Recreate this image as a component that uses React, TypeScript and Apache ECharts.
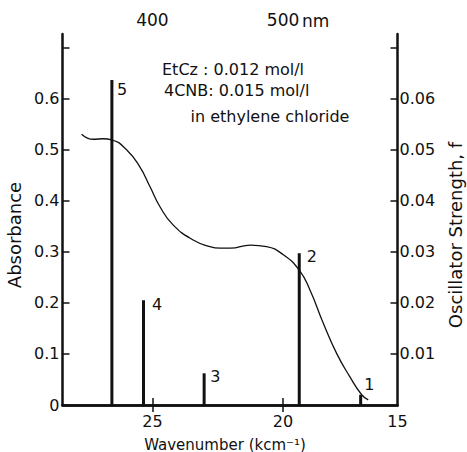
import React, { useEffect, useRef } from "react";
import * as echarts from "echarts";

// Absorption spectrum (wavenumber in kcm^-1, absorbance)
const spectrumWavenumber = [27.71, 27.26, 26.88, 26.56, 25.98, 25.48, 25.09, 24.71, 24.2, 23.44, 22.8, 22.41, 22.02, 21.25, 20.63, 19.99, 19.38, 18.97, 18.46, 17.95, 17.44, 16.99, 16.74];
const spectrumAbsorbance = [0.53, 0.52, 0.521, 0.519, 0.499, 0.466, 0.427, 0.388, 0.352, 0.323, 0.31, 0.307, 0.307, 0.313, 0.31, 0.294, 0.264, 0.225, 0.16, 0.101, 0.055, 0.02, 0.01];

// Calculated transitions (wavenumber, oscillator strength)
const transitionLabels = ["5", "4", "3", "2", "1"];
const transitionWavenumber = [26.55, 25.34, 23.02, 19.38, 17.03];
const oscillatorStrength = [0.0636, 0.0205, 0.0062, 0.0297, 0.002];

// Axis ticks
const xMin = 15.62;
const xMax = 28.44;
const bottomTickValues = [25, 20];
const bottomLabelValues = [xMin, 20, 25];
const topTickValues = [25, 20];
const topTickLabels = ["400", "500"];
const absTickValues = [0, 0.1, 0.2, 0.3, 0.4, 0.5, 0.6, 0.7];
const absLabelValues = [0, 0.1, 0.2, 0.3, 0.4, 0.5, 0.6];
const fTickValues = [0.01, 0.02, 0.03, 0.04, 0.05, 0.06, 0.07];
const fLabelValues = [0.01, 0.02, 0.03, 0.04, 0.05, 0.06];

// label offsets (style)
const labelOffsets = [[6.5, 2], [10, -4], [7.5, -5], [9, -5], [5, -18]];

const FONT = "DejaVu Sans";
const INK = "#111";

export default function App() {
  const ref = useRef<HTMLDivElement>(null);
  useEffect(() => {
    if (!ref.current) return;
    const chart = echarts.init(ref.current, undefined, { renderer: "svg" });
    const axisLine = { show: true, lineStyle: { color: INK, width: 2.5 } };
    const option: any = {
      animation: false,
      backgroundColor: "#fff",
      grid: { left: 62.5, right: 69.5, top: 34, bottom: 47, containLabel: false, outerBoundsMode: "none" },
      xAxis: [
        {
          type: "value",
          position: "bottom",
          inverse: true,
          min: xMin,
          max: xMax,
          axisLine,
          axisTick: { show: true, inside: true, length: 7, customValues: bottomTickValues, lineStyle: { color: INK, width: 1.5 } },
          axisLabel: {
            customValues: bottomLabelValues,
            formatter: (v: number) => (Math.abs(v - xMin) < 0.01 ? "15" : String(Math.round(v))),
            color: INK,
            fontFamily: FONT,
            fontSize: 16,
            margin: 8,
          },
          splitLine: { show: false },
          name: "Wavenumber (kcm⁻¹)",
          nameLocation: "middle",
          nameGap: 32,
          nameTextStyle: { color: INK, fontFamily: FONT, fontSize: 15, padding: [0, 10, 0, 0] },
        },
        {
          type: "value",
          position: "top",
          inverse: true,
          min: xMin,
          max: xMax,
          axisLine,
          axisTick: { show: true, inside: true, length: 7, customValues: topTickValues, lineStyle: { color: INK, width: 1.5 } },
          axisLabel: {
            customValues: topTickValues,
            formatter: (v: number) => topTickLabels[topTickValues.indexOf(Math.round(v))] ?? "",
            color: INK,
            fontFamily: FONT,
            fontSize: 17,
            margin: 6,
          },
          splitLine: { show: false },
        },
      ],
      yAxis: [
        {
          type: "value",
          position: "left",
          min: 0,
          max: 0.726,
          axisLine,
          axisTick: { show: true, inside: true, length: 7, customValues: absTickValues, lineStyle: { color: INK, width: 1.5 } },
          axisLabel: {
            customValues: absLabelValues,
            formatter: (v: number) => (v === 0 ? "0" : v.toFixed(1)),
            color: INK,
            fontFamily: FONT,
            fontSize: 16,
            margin: 3,
          },
          splitLine: { show: false },
          name: "Absorbance",
          nameLocation: "middle",
          nameGap: 35,
          nameTextStyle: { color: INK, fontFamily: FONT, fontSize: 18, padding: [0, 31, 0, 0] },
        },
        {
          type: "value",
          position: "right",
          min: 0,
          max: 0.0726,
          axisLine,
          axisTick: { show: true, inside: true, length: 7, customValues: fTickValues, lineStyle: { color: INK, width: 1.5 } },
          axisLabel: {
            customValues: fLabelValues,
            formatter: (v: number) => v.toFixed(2),
            color: INK,
            fontFamily: FONT,
            fontSize: 16,
            margin: 2,
          },
          splitLine: { show: false },
          name: "Oscillator Strength, f",
          nameLocation: "middle",
          nameGap: 49,
          nameTextStyle: { color: INK, fontFamily: FONT, fontSize: 18, padding: [0, 31, 0, 0] },
        },
      ],
      series: [
        {
          type: "line",
          name: "Absorbance",
          xAxisIndex: 0,
          yAxisIndex: 0,
          smooth: 0.5,
          showSymbol: false,
          lineStyle: { color: INK, width: 1.3 },
          data: spectrumWavenumber.map((x, i) => [x, spectrumAbsorbance[i]]),
        },
        {
          type: "bar",
          name: "Oscillator strength",
          xAxisIndex: 0,
          yAxisIndex: 1,
          barWidth: 3,
          itemStyle: { color: INK },
          data: transitionWavenumber.map((x, i) => ({
            value: [x, oscillatorStrength[i]],
            label: {
              show: true,
              formatter: transitionLabels[i],
              position: labelOffsets[i],
              align: "left",
              verticalAlign: "top",
              color: INK,
              fontFamily: FONT,
              fontSize: 16,
            },
          })),
        },
      ],
      graphic: [
        { type: "text", x: 302, y: 20.5, style: { text: "nm", font: `17px "${FONT}"`, fill: INK, textAlign: "left", textVerticalAlign: "middle" } },
        { type: "text", x: 162, y: 69.3, style: { text: "EtCz : 0.012 mol/l", font: `16px "${FONT}"`, fill: INK, textAlign: "left", textVerticalAlign: "middle" } },
        { type: "text", x: 164, y: 90.7, style: { text: "4CNB: 0.015 mol/l", font: `16px "${FONT}"`, fill: INK, textAlign: "left", textVerticalAlign: "middle" } },
        { type: "text", x: 190.5, y: 116.7, style: { text: "in ethylene chloride", font: `16px "${FONT}"`, fill: INK, textAlign: "left", textVerticalAlign: "middle" } },
      ],
    };
    chart.setOption(option);
    return () => chart.dispose();
  }, []);
  return (
    <div
      ref={ref}
      style={{ position: "fixed", left: 0, top: 0, width: 467, height: 452, background: "#fff" }}
    />
  );
}
